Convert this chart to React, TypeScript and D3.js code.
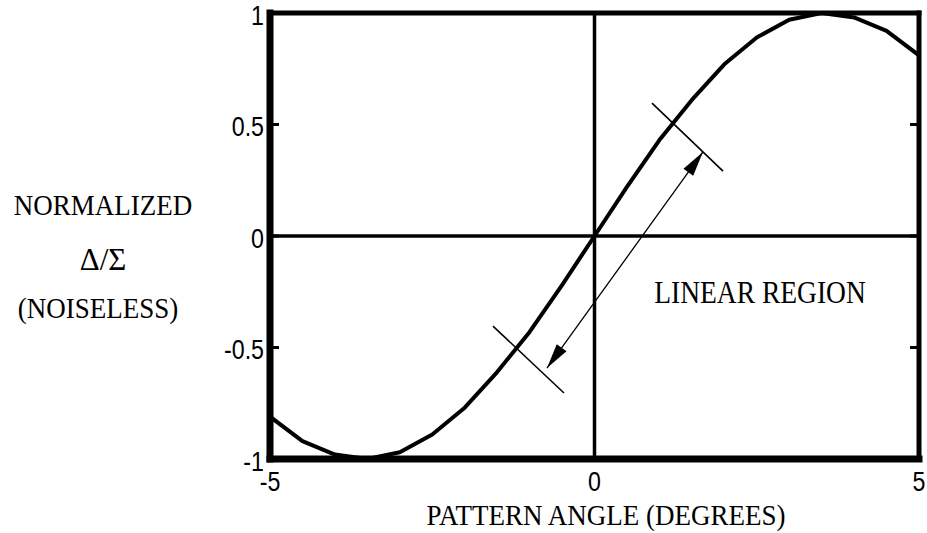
import React from "react";
import * as d3 from "d3";

// Normalized difference-over-sum response vs. pattern angle
const angles = [-5, -4.5, -4, -3.5, -3, -2.5, -2, -1.5, -1, -0.5, 0, 0.5, 1, 1.5, 2, 2.5, 3, 3.5, 4, 4.5, 5];
const response = [-0.81, -0.92, -0.98, -1.0, -0.97, -0.89, -0.77, -0.61, -0.43, -0.22, 0, 0.22, 0.43, 0.61, 0.77, 0.89, 0.97, 1.0, 0.98, 0.92, 0.81];

const xTicks = [-5, 0, 5];
const yTicks = [-1, -0.5, 0, 0.5, 1];
const yTickLabels = ["-1", "-0.5", "0", "0.5", "1"];
const innerTicks = [-0.5, 0, 0.5];

// Linear-region annotation (data coordinates)
const upperBar = [[0.886, 0.596], [1.98, 0.291]];
const lowerBar = [[-1.564, -0.404], [-0.47, -0.704]];
const spanArrow = [[1.671, 0.377], [-0.732, -0.592]];

const W = 927;
const H = 533;
const SANS = "'Liberation Sans', Arial, sans-serif";
const SERIF = "'Liberation Serif', 'Times New Roman', serif";

const x = d3.scaleLinear().domain([-5, 5]).range([270, 919]);
const y = d3.scaleLinear().domain([-1, 1]).range([459, 13]);

function Txt(props: {
  x: number; y: number; text: string; size: number; family: string;
  anchor?: string; sx?: number; sy?: number;
}) {
  const { sx = 1, sy = 1, anchor = "middle" } = props;
  return (
    <text
      transform={`translate(${props.x},${props.y}) scale(${sx},${sy})`}
      fontSize={props.size}
      fontFamily={props.family}
      textAnchor={anchor}
      fill="#000"
    >
      {props.text}
    </text>
  );
}

function arrowHead(tip: number[], from: number[], len = 25, half = 6) {
  const dx = tip[0] - from[0];
  const dy = tip[1] - from[1];
  const d = Math.hypot(dx, dy);
  const ux = dx / d, uy = dy / d;
  const bx = tip[0] - ux * len, by = tip[1] - uy * len;
  const px = -uy * half, py = ux * half;
  return `M${tip[0]},${tip[1]}L${bx + px},${by + py}L${bx - px},${by - py}Z`;
}

export default function App() {
  const line = d3
    .line<number>()
    .x((_, i) => x(angles[i]))
    .y((d) => y(d))
    .curve(d3.curveLinear);

  const [x0, x1] = x.range();
  const [yb, yt] = y.range();

  const a0 = [x(spanArrow[0][0]), y(spanArrow[0][1])];
  const a1 = [x(spanArrow[1][0]), y(spanArrow[1][1])];

  return (
    <svg
      width={W}
      height={H}
      style={{ position: "absolute", left: 0, top: 0, background: "#fff" }}
    >
      <defs>
        <clipPath id="plot">
          <rect x={x0} y={yt} width={x1 - x0} height={yb - yt} />
        </clipPath>
      </defs>

      {/* zero lines */}
      <line x1={x(0)} x2={x(0)} y1={yt} y2={yb} stroke="#000" strokeWidth={3.5} />
      <line x1={x0} x2={x1} y1={y(0)} y2={y(0)} stroke="#000" strokeWidth={3.5} />

      {/* response curve */}
      <path
        d={line(response) || ""}
        fill="none"
        stroke="#000"
        strokeWidth={4}
        strokeLinejoin="round"
        clipPath="url(#plot)"
      />

      {/* linear region markers */}
      {[upperBar, lowerBar].map((b, i) => (
        <line
          key={i}
          x1={x(b[0][0])}
          y1={y(b[0][1])}
          x2={x(b[1][0])}
          y2={y(b[1][1])}
          stroke="#000"
          strokeWidth={1.6}
        />
      ))}
      <line x1={a0[0]} y1={a0[1]} x2={a1[0]} y2={a1[1]} stroke="#000" strokeWidth={1.3} />
      <path d={arrowHead(a0, a1)} fill="#000" />
      <path d={arrowHead(a1, a0)} fill="#000" />

      {/* inner ticks */}
      {innerTicks.map((t) => (
        <g key={t}>
          <line x1={x0} x2={x0 + 9} y1={y(t)} y2={y(t)} stroke="#000" strokeWidth={3} />
          <line x1={x1 - 9} x2={x1} y1={y(t)} y2={y(t)} stroke="#000" strokeWidth={3} />
        </g>
      ))}

      {/* frame */}
      <line x1={x0} x2={x1} y1={yt} y2={yt} stroke="#000" strokeWidth={5} strokeLinecap="square" />
      <line x1={x1} x2={x1} y1={yt} y2={yb} stroke="#000" strokeWidth={5} strokeLinecap="square" />
      <line x1={x0} x2={x1} y1={yb} y2={yb} stroke="#000" strokeWidth={7} strokeLinecap="square" />
      <line x1={x0} x2={x0} y1={yt} y2={yb} stroke="#000" strokeWidth={7} strokeLinecap="square" />

      {/* tick labels */}
      {yTicks.map((t, i) => (
        <Txt
          key={t}
          x={x0 - 6}
          y={y(t) + 11.5}
          text={yTickLabels[i]}
          size={27}
          family={SANS}
          anchor="end"
          sx={0.86}
        />
      ))}
      {xTicks.map((t) => (
        <Txt key={t} x={x(t)} y={491} text={String(t)} size={27} family={SANS} sx={0.86} />
      ))}

      {/* annotation and axis titles */}
      <Txt x={760} y={303} text="LINEAR REGION" size={27.5} family={SERIF} sy={1.15} />
      <Txt x={606} y={525} text="PATTERN ANGLE (DEGREES)" size={27} family={SERIF} sy={1.1} />
      <Txt x={103} y={215} text="NORMALIZED" size={27} family={SERIF} sy={1.1} />
      <Txt x={103} y={270} text="Δ/Σ" size={31} family={SERIF} sy={1.05} />
      <Txt x={98} y={318} text="(NOISELESS)" size={27} family={SERIF} sy={1.1} />
    </svg>
  );
}
